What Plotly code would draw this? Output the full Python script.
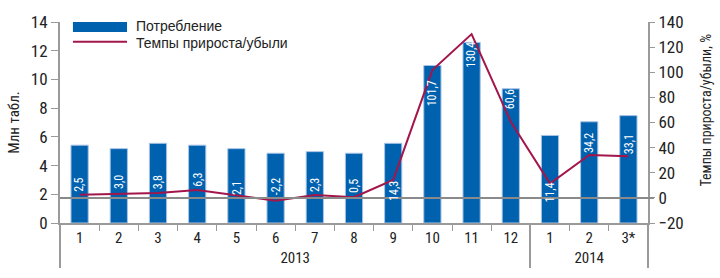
import plotly.graph_objects as go

years = ["2013"] * 12 + ["2014"] * 3
months = ["1", "2", "3", "4", "5", "6", "7", "8", "9", "10", "11", "12", "1", "2", "3*"]
consumption = [5.42, 5.18, 5.55, 5.42, 5.18, 4.86, 4.97, 4.86, 5.55, 10.97, 12.58, 9.35, 6.10, 7.05, 7.48]
growth = [2.5, 3.0, 3.8, 6.3, 2.1, -2.2, 2.3, 0.5, 14.3, 101.7, 130.4, 60.6, 11.4, 34.2, 33.1]

# vertical centre of each rotated value label, in left-axis units
label_pos = [2.63, 2.84, 2.84, 3.02, 2.46, 2.54, 2.63, 2.57, 2.25, 9.06, 11.69, 8.61, 2.12, 5.59, 5.52]

FONT = "Liberation Sans Narrow, Roboto Condensed, Arial Narrow, Liberation Sans, sans-serif"
BLUE = "#0062AF"
RED = "#A3164B"
GREY = "#9A9A9A"

fig = go.Figure()
fig.add_trace(go.Bar(
    x=[years, months], y=consumption, name="Потребление",
    marker=dict(color=BLUE, line=dict(color="#A9C4E6", width=1)),
    width=0.44, showlegend=False,
))
fig.add_trace(go.Scatter(
    x=[years, months], y=growth, name="Темпы прироста/убыли", yaxis="y2",
    mode="lines", line=dict(color=RED, width=2), showlegend=False,
))

annotations = []
for i, (v, p) in enumerate(zip(growth, label_pos)):
    annotations.append(dict(
        x=i, y=p, xref="x", yref="y", text=f"{v:.1f}".replace(".", ","),
        textangle=-90, showarrow=False, font=dict(color="white", size=12, family=FONT),
        xanchor="center", yanchor="middle",
    ))

# legend (manual)
LEG_FONT = dict(size=14, family="Liberation Sans, sans-serif", color="#222")
annotations += [
    dict(x=0.126, y=0.982, xref="paper", yref="paper", text="Потребление", showarrow=False,
         xanchor="left", yanchor="middle", font=LEG_FONT),
    dict(x=0.126, y=0.895, xref="paper", yref="paper", text="Темпы прироста/убыли", showarrow=False,
         xanchor="left", yanchor="middle", font=LEG_FONT),
]
annotations.append(dict(
    x=1.098, y=70, xref="paper", yref="y2", text="Темпы прироста/убыли, %", textangle=-90,
    showarrow=False, xanchor="center", yanchor="middle", font=dict(size=14, family=FONT, color="#222"),
))

shapes = [
    dict(type="rect", xref="paper", yref="paper", x0=0.022, x1=0.114, y0=0.950, y1=1.0,
         fillcolor=BLUE, line=dict(width=0)),
    dict(type="line", xref="paper", yref="paper", x0=0.022, x1=0.114, y0=0.902, y1=0.902,
         line=dict(color=RED, width=2)),
    dict(type="line", xref="paper", yref="y2", x0=0, x1=1.01, y0=0, y1=0,
         line=dict(color="#8A8A8A", width=2), layer="above"),
]

fig.update_layout(
    width=720, height=278,
    margin=dict(l=58, r=72, t=12, b=48),
    paper_bgcolor="white", plot_bgcolor="white",
    font=dict(family=FONT, size=15, color="#222"),
    bargap=0.56,
    annotations=annotations, shapes=shapes,
    xaxis=dict(
        type="multicategory", showline=True, linecolor=GREY, linewidth=2,
        ticks="outside", ticklen=6, tickcolor=GREY, tickwidth=1,
        showdividers=True, dividercolor=GREY, dividerwidth=2,
        tickfont=dict(size=15, family=FONT), showgrid=False, zeroline=False,
    ),
    yaxis=dict(
        range=[0, 14], dtick=2, showline=True, linecolor=GREY, linewidth=2,
        ticks="outside", ticklen=7, tickcolor=GREY, showgrid=False, zeroline=False,
        title=dict(text="Млн табл.", standoff=8, font=dict(size=15)),
        tickfont=dict(size=17, family=FONT),
    ),
    yaxis2=dict(
        range=[-20, 140], dtick=20, overlaying="y", side="right", showline=True,
        linecolor=GREY, linewidth=2, ticks="outside", ticklen=5, tickcolor=GREY,
        showgrid=False, zeroline=False, tickfont=dict(size=17, family=FONT),
    ),
)

fig.write_html("out.html")
